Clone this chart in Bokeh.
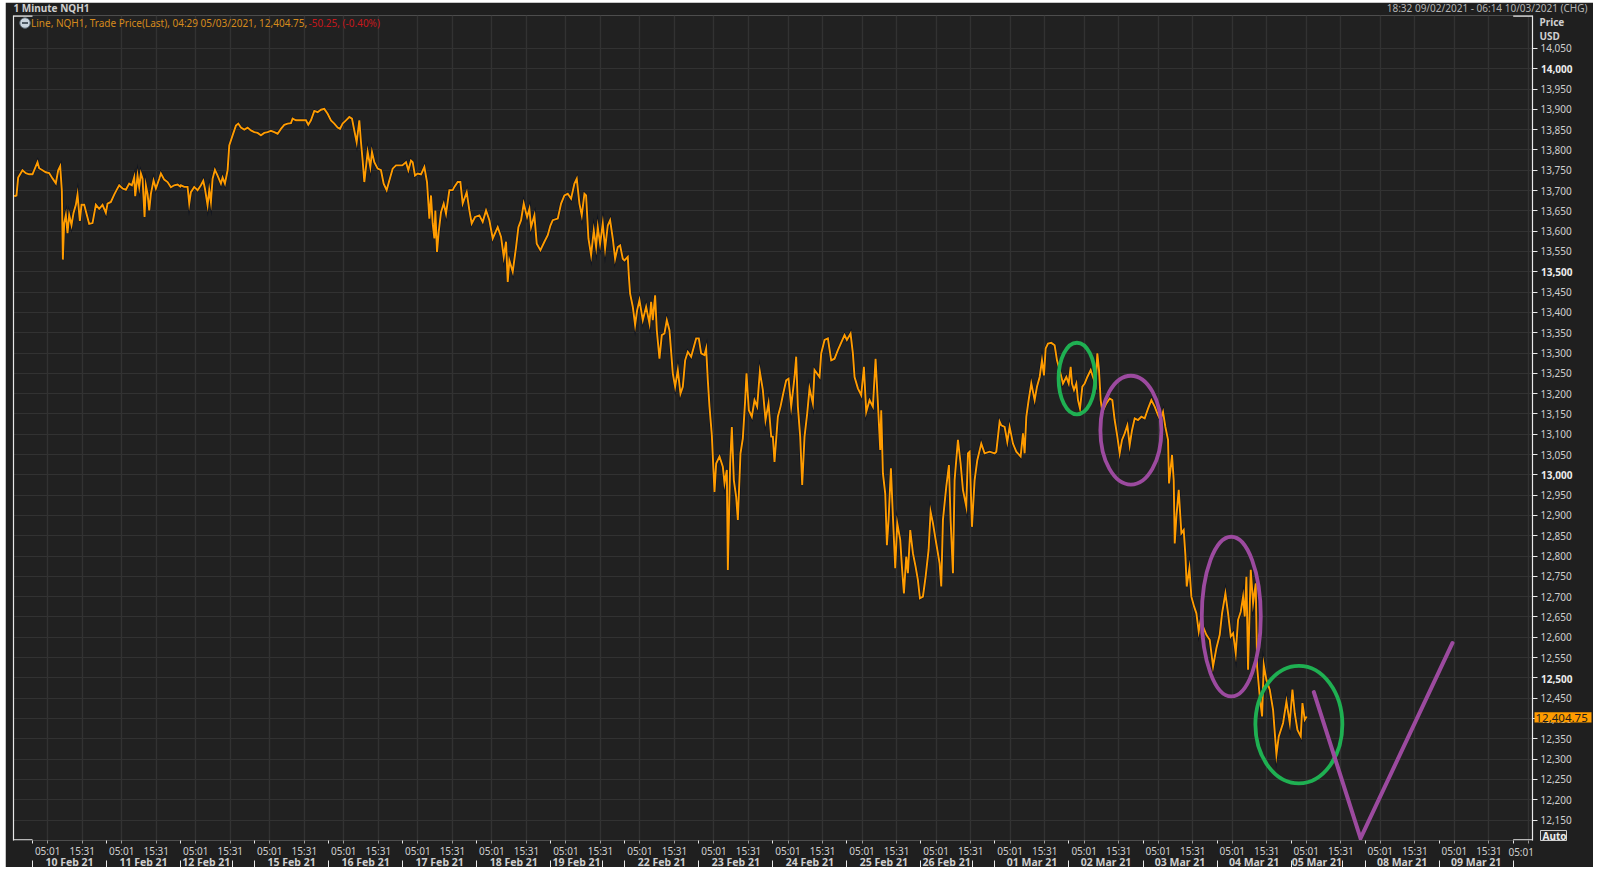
from bokeh.plotting import figure
from bokeh.layouts import column
from bokeh.models import LinearAxis, FixedTicker, Range1d, Grid
from bokeh.core.properties import value
from bokeh.embed import file_html
from bokeh.resources import INLINE

# Each list holds (session tick, price); one session is 222 ticks long.
feb09 = [(167,13686),(174,13688),(179,13732),(192,13750),(202,13743),(212,13740)]
feb10 = [(0,13740),(15,13770),(20,13755),(30,13750),(40,13745),(50,13743),(60,13730),(70,13718),(77,13750),(83,13760),(88,13700),(91,13530),(95,13620),(100,13640),(105,13595),(110,13640),(117,13615),(123,13645),(130,13665),(135,13690),(142,13625),(147,13665),(155,13665),(163,13640),(170,13618),(180,13620),(190,13665),(200,13655),(210,13665),(220,13645)]
feb11 = [(3,13668),(13,13672),(23,13690),(30,13701),(38,13713),(48,13705),(58,13702),(68,13717),(76,13713),(83,13733),(86,13686),(93,13737),(98,13709),(103,13742),(108,13729),(114,13635),(118,13713),(123,13692),(128,13651),(133,13692),(141,13725),(148,13705),(158,13729),(163,13742),(173,13727),(183,13721),(193,13708),(203,13713),(213,13715),(221,13710)]
feb12 = [(1,13713),(11,13709),(21,13709),(26,13668),(31,13696),(41,13709),(51,13701),(61,13713),(68,13724),(73,13705),(81,13664),(86,13701),(91,13672),(96,13729),(103,13751),(111,13737),(121,13717),(126,13732),(133,13717),(141,13750),(146,13811),(156,13836),(166,13860),(173,13865),(181,13855),(191,13850),(201,13855),(211,13848),(221,13844)]
feb15 = [(9,13842),(19,13836),(29,13842),(39,13844),(49,13847),(59,13844),(69,13840),(79,13852),(89,13862),(99,13865),(109,13866),(114,13877),(124,13873),(139,13873),(154,13873),(161,13862),(169,13873),(179,13896),(189,13893),(199,13899),(209,13901),(219,13889)]
feb16 = [(7,13873),(17,13865),(27,13855),(34,13852),(42,13865),(52,13873),(62,13881),(70,13877),(77,13848),(84,13819),(92,13873),(97,13819),(102,13774),(107,13721),(112,13758),(117,13795),(125,13758),(130,13795),(137,13770),(147,13754),(157,13750),(165,13717),(174,13701),(182,13725),(192,13754),(202,13762),(212,13762),(221,13762)]
feb17 = [(10,13770),(17,13750),(25,13774),(30,13770),(37,13737),(45,13742),(55,13740),(65,13758),(73,13721),(80,13631),(85,13688),(90,13619),(95,13582),(98,13651),(103,13549),(108,13598),(115,13647),(123,13668),(130,13643),(140,13701),(150,13701),(155,13709),(165,13721),(173,13721),(180,13668),(192,13696),(200,13651),(207,13619),(217,13635)]
feb18 = [(8,13639),(18,13623),(28,13651),(38,13627),(48,13582),(63,13610),(73,13586),(81,13537),(88,13574),(93,13475),(98,13528),(108,13500),(118,13561),(125,13610),(133,13627),(141,13668),(151,13635),(158,13655),(163,13610),(173,13639),(180,13569),(191,13553),(203,13574),(213,13590),(221,13614)]
feb19 = [(6,13627),(21,13631),(31,13668),(41,13688),(51,13692),(61,13680),(71,13717),(78,13729),(86,13668),(93,13639),(101,13692),(106,13688),(113,13582),(121,13541),(129,13602),(136,13561),(141,13610),(148,13569),(156,13619),(163,13557),(171,13614),(178,13627),(186,13582),(193,13532),(201,13561),(208,13565),(216,13532),(221,13528)]
feb22 = [(9,13537),(12,13492),(16,13446),(24,13414),(31,13369),(37,13405),(44,13430),(54,13381),(64,13414),(74,13373),(79,13426),(84,13381),(91,13442),(96,13356),(104,13286),(111,13344),(119,13348),(126,13381),(134,13356),(144,13250),(151,13217),(159,13258),(167,13200),(174,13217),(181,13282),(189,13303),(199,13291),(214,13336)]
feb23 = [(0,13336),(7,13299),(17,13295),(22,13311),(27,13233),(32,13168),(39,13098),(47,12958),(52,13028),(62,13045),(72,13020),(77,12979),(84,13012),(87,12766),(94,13028),(99,13118),(105,12987),(112,12946),(117,12889),(125,13053),(132,13090),(139,13184),(143,13250),(150,13159),(159,13143),(167,13184),(175,13168),(183,13254),(192,13209),(200,13135),(209,13176),(217,13094)]
feb24 = [(0,13094),(5,13032),(15,13143),(23,13168),(30,13196),(40,13233),(47,13237),(55,13168),(65,13241),(70,13291),(75,13168),(82,13094),(88,12975),(95,13094),(103,13151),(110,13213),(120,13176),(125,13258),(140,13241),(145,13299),(155,13332),(165,13336),(175,13282),(185,13286),(195,13307),(215,13344)]
feb25 = [(0,13332),(11,13348),(18,13299),(23,13241),(33,13213),(43,13196),(51,13266),(58,13155),(68,13184),(78,13168),(86,13286),(93,13176),(100,13061),(103,13159),(108,13004),(115,12954),(120,12827),(125,12889),(132,13016),(138,12897),(145,12770),(151,12881),(160,12840),(165,12774),(171,12708),(178,12799),(183,12758),(190,12864),(198,12807),(206,12774),(213,12741),(219,12696)]
feb26 = [(6,12700),(14,12749),(23,12815),(29,12909),(36,12881),(46,12831),(56,12782),(61,12725),(66,12889),(76,12971),(84,13024),(89,12889),(96,12758),(101,12987),(111,13086),(119,13028),(126,12963),(136,12922),(141,13053),(146,13057),(153,12872),(161,12987),(169,13036),(181,13077),(191,13053),(206,13057),(221,13053)]
mar01 = [(4,13057),(14,13131),(19,13122),(29,13118),(37,13081),(44,13118),(54,13077),(64,13057),(77,13045),(84,13102),(89,13053),(94,13143),(101,13184),(109,13225),(119,13184),(126,13217),(134,13241),(141,13282),(147,13245),(152,13311),(159,13323),(169,13325),(179,13319),(186,13282),(194,13258),(204,13225),(214,13241),(221,13225)]
mar02 = [(5,13266),(9,13225),(15,13209),(22,13225),(27,13184),(33,13163),(40,13217),(47,13225),(55,13241),(65,13258),(72,13241),(80,13221),(85,13299),(90,13258),(95,13184),(100,13155),(112,13176),(122,13188),(130,13184),(137,13135),(145,13094),(152,13053),(159,13086),(167,13102),(175,13122),(182,13073),(189,13110),(197,13139),(207,13135),(217,13143)]
mar03 = [(5,13139),(15,13163),(25,13184),(35,13168),(45,13147),(52,13135),(60,13155),(67,13118),(75,13086),(78,12979),(87,13049),(92,12987),(95,12831),(100,12897),(107,12963),(115,12856),(122,12864),(127,12803),(131,12725),(139,12770),(145,12700),(153,12676),(160,12659),(167,12614),(173,12643),(180,12626),(190,12606),(200,12594),(210,12528),(220,12573)]
mar04 = [(8,12606),(15,12659),(25,12708),(33,12659),(41,12602),(48,12610),(56,12561),(63,12643),(71,12663),(78,12700),(83,12651),(88,12749),(93,12520),(101,12766),(108,12684),(116,12733),(120,12528),(128,12454),(135,12405),(140,12532),(148,12495),(158,12471),(168,12421),(178,12311),(185,12356),(198,12389),(208,12442),(218,12389)]
mar05 = [(4,12471),(11,12413),(19,12372),(29,12356),(34,12438),(41,12397),(47,12404.75)]

sessions = [feb09, feb10, feb11, feb12, feb15, feb16, feb17, feb18, feb19, feb22, feb23, feb24, feb25, feb26, mar01, mar02, mar03, mar04, mar05]
session_first = -1
session_ticks = 222

day_names = ["10 Feb 21","11 Feb 21","12 Feb 21","15 Feb 21","16 Feb 21","17 Feb 21","18 Feb 21","19 Feb 21","22 Feb 21","23 Feb 21","24 Feb 21","25 Feb 21","26 Feb 21","01 Mar 21","02 Mar 21","03 Mar 21","04 Mar 21","05 Mar 21","08 Mar 21","09 Mar 21"]
short_days = [2, 7, 12, 17]
short_len = 0.695
t_0501 = 0.205
t_1531 = 0.672

price_ticks = list(range(12150, 14051, 50))
bold_ticks = [12500, 13000, 13500, 14000]

green_ovals = [(14.107, 13237, 0.495, 177), (17.105, 12385, 1.175, 290)]
purple_ovals = [(14.836, 13110, 0.824, 268), (16.192, 12651, 0.797, 394)]
vee_x = [17.307, 17.938, 19.18]
vee_y = [12465, 12105, 12586]

last_price = "12,404.75"

BG = "#212121"; PANEL = "#1f1f1f"; GRID = "#323232"; TXT = "#cfcfcf"; ORANGE = "#ff9c00"
FONT = "Noto Sans"

PX0, PXD = 31.7, 74.05
PY0, PYV = 68.3, 50 / 20.33
def X(px): return (px - PX0) / PXD
def Y(py): return 14000 - (py - PY0) * PYV
def page_y(price): return PY0 + (14000 - price) / PYV

p = figure(width=1588, height=869, output_backend="svg", toolbar_location=None,
           x_range=Range1d(X(12.7), X(1532)), y_range=Range1d(Y(841), Y(15)),
           x_axis_location=None, y_axis_location=None,
           background_fill_color=BG, border_fill_color=PANEL,
           min_border_left=8, min_border_right=61, min_border_top=13, min_border_bottom=30,
           outline_line_color="#4d4d4d", outline_line_width=1)
p.frame_align = False
p.styles = {"clip-path": "inset(0px 0px 4px 0px)"}
p.xgrid.grid_line_color = None
p.ygrid.grid_line_color = None

day_idx = list(range(len(day_names)))
time_ticks = sorted([d + t_0501 for d in day_idx + [20]] + [d + t_1531 for d in day_idx])
day_edges = day_idx + [20] + [d + short_len for d in short_days]
day_centres = [d + (short_len if d in short_days else 1) / 2 for d in day_idx]

p.add_layout(Grid(dimension=0, ticker=FixedTicker(ticks=time_ticks), grid_line_color=GRID, grid_line_width=1.4))
p.add_layout(Grid(dimension=1, ticker=FixedTicker(ticks=price_ticks), grid_line_color=GRID, grid_line_width=1.2))

yaxis = LinearAxis(ticker=FixedTicker(ticks=price_ticks),
                   major_label_overrides={t: ("" if t in bold_ticks else f"{t:,}") for t in price_ticks},
                   axis_line_color="#e8e8e8", axis_line_width=1.2,
                   major_tick_line_color="#e8e8e8", major_tick_out=5, major_tick_in=0,
                   minor_tick_line_color=None, major_label_standoff=3,
                   major_label_text_color=TXT, major_label_text_font=FONT, major_label_text_font_size="10px")
p.add_layout(yaxis, "right")
left_axis = LinearAxis(ticker=FixedTicker(ticks=[]), axis_line_color="#e8e8e8", axis_line_width=1.2,
                       major_tick_line_color=None, minor_tick_line_color=None, major_label_text_color=None,
                       major_label_text_font_size="1px", major_label_standoff=0)
p.add_layout(left_axis, "left")

xaxis = LinearAxis(ticker=FixedTicker(ticks=time_ticks, minor_ticks=day_edges[:21]),
                   major_label_overrides={t: ("" if t == 20 + t_0501 else ("05:01" if abs((t % 1) - t_0501) < 0.01 else "15:31")) for t in time_ticks},
                   axis_line_color="#4d4d4d", major_tick_line_color="#9a9a9a", major_tick_out=3, major_tick_in=0,
                   minor_tick_line_color="#e8e8e8", minor_tick_out=3, minor_tick_in=0,
                   major_label_standoff=0, major_label_text_color=TXT, major_label_text_font=FONT,
                   major_label_text_font_size="10px")
p.add_layout(xaxis, "below")
day_axis = LinearAxis(ticker=FixedTicker(ticks=day_centres, minor_ticks=day_edges),
                      major_label_overrides=dict(zip(day_centres, day_names)),
                      axis_line_color=None, major_tick_line_color=None, major_tick_out=0, major_tick_in=0,
                      minor_tick_line_color="#e8e8e8", minor_tick_out=0, minor_tick_in=-10,
                      major_label_standoff=-6, major_label_text_color=TXT, major_label_text_font=FONT,
                      major_label_text_font_size="10.5px", major_label_text_font_style="bold")
p.add_layout(day_axis, "below")

for xs, ys in [((X(12.7), 0), (Y(15), Y(15))), ((20, X(1532)), (Y(15), Y(15))),
               ((X(12.7), 0), (Y(841), Y(841))), ((20, X(1532)), (Y(841), Y(841)))]:
    p.line(list(xs), list(ys), line_color="#e8e8e8", line_width=2.4)

xs, ys = [], []
for i, sess in enumerate(sessions):
    for t, price in sess:
        xs.append(session_first + i + t / session_ticks)
        ys.append(price)
p.line(xs, ys, line_color="#0a1020", line_width=3.1, line_alpha=0.85, line_join="miter")
p.line(xs, ys, line_color=ORANGE, line_width=1.9, line_join="miter")

for ovals, col in ((green_ovals, "#1fb052"), (purple_ovals, "#9c4a9f")):
    for cx, cy, w, h in ovals:
        p.ellipse(x=cx, y=cy, width=w, height=h, fill_color=None, line_color=col, line_width=3.8)
p.line(vee_x, vee_y, line_color="#9c4a9f", line_width=4, line_join="miter", line_cap="round")

# Transparent sheet over the whole panel for the texts around the frame; its units are page pixels.
q = figure(width=1588, height=865, output_backend="svg", toolbar_location=None,
           x_range=Range1d(5, 1593), y_range=Range1d(867, 2),
           x_axis_location=None, y_axis_location=None,
           background_fill_color=None, border_fill_color=None, outline_line_color=None,
           min_border_left=0, min_border_right=0, min_border_top=0, min_border_bottom=0)
q.frame_align = False
q.styles = {"position": "absolute", "left": "0px", "top": "0px", "pointer-events": "none"}
q.xgrid.grid_line_color = None
q.ygrid.grid_line_color = None

def lab(px, py, text, color=TXT, style="normal", size="10px", align="left"):
    q.text(x=[px], y=[py], text=[text], text_color=color, text_font=value(FONT), text_font_style=style,
           text_font_size=size, text_align=align, text_baseline="middle")

q.quad(left=[1534], right=[1591], top=[711.7], bottom=[722], fill_color=ORANGE, line_color=None)
q.quad(left=[1540], right=[1566], top=[830], bottom=[840], fill_color="#2a2a2a", line_color="#d0d0d0", line_width=1)

for t in bold_ticks:
    lab(1540.5, page_y(t), f"{t:,}", color="#ececec", style="bold")

lab(13, 7, "1 Minute NQH1", style="bold")
lab(1587, 7, "18:32 09/02/2021 - 06:14 10/03/2021 (CHG)", color="#b4b4b4", align="right")
lab(30.5, 22.5, "Line, NQH1, Trade Price(Last), 04:29 05/03/2021, 12,404.75,", color="#d58a1c")
lab(308, 22.5, "-50.25, (-0.40%)", color="#c4181c")
lab(1539, 21, "Price", style="bold")
lab(1539, 35, "USD", style="bold")
lab(1520.7, 851, "05:01", align="center")
lab(1542, 835.2, "Auto", color="#ececec", style="bold")
lab(1535, 717, last_price, color="#1c1c1c", size="11.5px")
q.ellipse(x=[24.5], y=[22.5], width=[10.5], height=[10.5], fill_color="#c9d3dc", line_color="#5f6d79", line_width=1)
q.line([21.5, 27.5], [22.5, 22.5], line_color="#26323c", line_width=1.4)

root = column(p, q, width=1588, height=869)
root.styles = {"position": "absolute", "left": "5px", "top": "2px"}
open("out.html", "w").write(file_html(root, INLINE))
